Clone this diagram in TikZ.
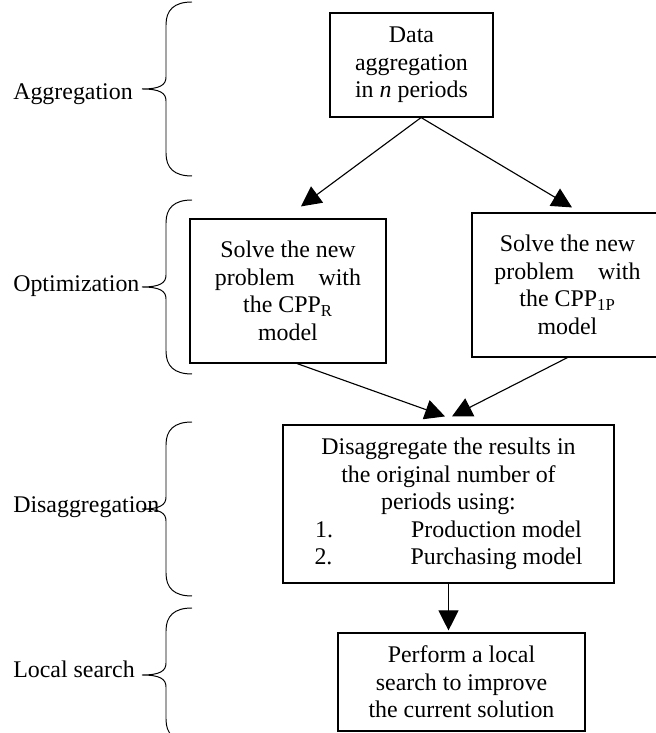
\documentclass[tikz,border=0pt]{standalone}
\usepackage{fontspec}
\setmainfont{Liberation Serif}
\usetikzlibrary{arrows.meta}
\tikzset{
  box/.style={draw, line width=0.8pt, align=center, inner sep=0pt, font=\fontsize{17}{19.6}\selectfont},
  lbl/.style={anchor=base west, inner sep=0pt, font=\fontsize{17}{19.6}\selectfont},
  arr/.style={line width=0.8pt, -{Triangle[length=0.5cm,width=0.5cm]}},
  curly/.style={line width=0.7pt}
}
\begin{document}
\begin{tikzpicture}
\useasboundingbox (0,0) rectangle (16.4,18.325);

% Cajas
\node [box, minimum width=4.075cm, minimum height=2.6cm] (data) at (10.2875,16.7)
  {Data\\aggregation\\in \textit{n} periods};
\node [box, minimum width=4.9cm, minimum height=3.6cm] (solveR) at (7.2,11.05)
  {Solve the new\\problem\quad with\\the CPP\textsubscript{R}\\model};
\node [box, minimum width=4.775cm, minimum height=3.6cm] (solveP) at (14.1875,11.2)
  {Solve the new\\problem\quad with\\the CPP\textsubscript{1P}\\model};
\node [box, minimum width=8.275cm, minimum height=3.95cm] (disagg) at (11.2125,5.725)
  {Disaggregate the results in\\the original number of\\periods using:\\
   \makebox[2.4cm][l]{1.}Production model\\
   \makebox[2.4cm][l]{2.}Purchasing model};
\node [box, minimum width=6.175cm, minimum height=2.45cm] (search) at (11.5375,1.275)
  {Perform a local\\search to improve\\the current solution};

% Flechas
\draw [arr] ([xshift=0.24cm]data.south) -- ([xshift=0.325cm,yshift=0.3cm]solveR.north);
\draw [arr] ([xshift=0.24cm]data.south) -- ([xshift=0.1125cm,yshift=0.125cm]solveP.north);
\draw [arr] ([xshift=0.225cm]solveR.south) -- ([xshift=-0.0875cm,yshift=0.2cm]disagg.north);
\draw [arr] (solveP.south) -- ([xshift=0.0875cm,yshift=0.2cm]disagg.north);
\draw [arr] (disagg.south) -- ([yshift=0.05cm]disagg.south |- search.north);

% Llaves (arriba, abajo)
\foreach \T/\B in {18.275/13.925, 13.325/8.975, 7.775/3.425, 3.125/-0.225}{
  \pgfmathsetmacro{\M}{(\T+\B)/2}
  \draw [curly] (4.8,\T) .. controls (4.35,\T) and (4.15,\T-0.2) .. (4.15,\T-0.575)
    -- (4.15,\M+0.3) .. controls (4.15,\M+0.1) and (4.0,\M) .. (3.55,\M)
    .. controls (4.0,\M) and (4.15,\M-0.1) .. (4.15,\M-0.3)
    -- (4.15,\B+0.575) .. controls (4.15,\B+0.2) and (4.35,\B) .. (4.8,\B);
}

% Etiquetas
\node [lbl] (aggLbl) at (0.325,15.825) {Aggregation};
\node [lbl] (optLbl) at (0.325,11.025) {Optimization};
\node [lbl] (disLbl) at (0.325,5.5) {Disaggregation};
\node [lbl] (locLbl) at (0.325,1.375) {Local search};
\end{tikzpicture}
\end{document}
